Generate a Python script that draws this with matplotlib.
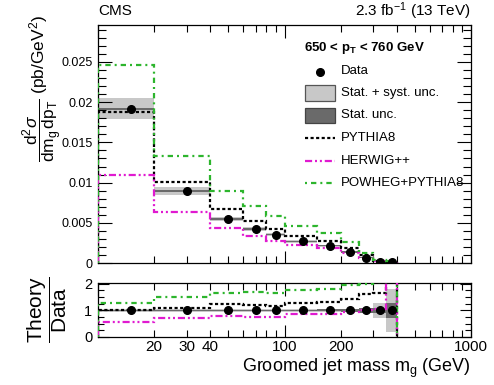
import numpy as np
import matplotlib
matplotlib.use("Agg")
import matplotlib.pyplot as plt
from matplotlib.ticker import FixedLocator, FuncFormatter, MultipleLocator
from matplotlib.patches import Rectangle

plt.rcParams['font.family'] = ['Liberation Sans', 'DejaVu Sans']
plt.rcParams['mathtext.fontset'] = 'custom'
plt.rcParams['mathtext.rm'] = 'Liberation Sans'
plt.rcParams['mathtext.it'] = 'Liberation Sans:italic'
plt.rcParams['mathtext.bf'] = 'Liberation Sans:bold'

# ---------------- data ----------------
edges = [10, 20, 40, 60, 80, 100, 150, 200, 250, 300, 350, 400]
data = [0.0192, 0.00897, 0.00545, 0.00421, 0.00351, 0.00268, 0.00216, 0.00137, 0.00065, 0.00018, 0.00008]
rel_tot = [0.07, 0.06, 0.05, 0.05, 0.05, 0.05, 0.06, 0.07, 0.10, 0.27, 0.80]
rel_stat = [0.007, 0.014, 0.02, 0.025, 0.025, 0.03, 0.035, 0.05, 0.08, 0.10, 0.27]
pythia = [0.0188, 0.01012, 0.00674, 0.00517, 0.00421, 0.0034, 0.0027, 0.0019, 0.00105, 0.0003, 0.0001]
herwig = [0.01095, 0.0064, 0.00434, 0.0033, 0.00277, 0.00222, 0.00182, 0.00128, 0.00066, 0.0002, 0.0002]
powheg = [0.02459, 0.0133, 0.0090, 0.0071, 0.00587, 0.00455, 0.0037, 0.00265, 0.0013, 0.0004, 0.0002]
r_pythia = [1.0, 1.10, 1.24, 1.21, 1.18, 1.29, 1.30, 1.42, 1.63, 1.66, 2.5]
r_herwig = [0.57, 0.70, 0.79, 0.76, 0.74, 0.85, 0.86, 0.94, 1.01, 1.05, 2.5]
r_powheg = [1.29, 1.49, 1.65, 1.68, 1.64, 1.77, 1.80, 1.96, 2.0, 2.05, 2.5]
legend_title = '650 < p$_\\mathbf{T}$ < 760 GeV'
legend_labels = ['Data', 'Stat. + syst. unc.', 'Stat. unc.', 'PYTHIA8', 'HERWIG++', 'POWHEG+PYTHIA8']

edges_a = np.array(edges, float)
centers = 0.5 * (edges_a[:-1] + edges_a[1:])
data_a = np.array(data)

LIGHT = '#c8c8c8'
DARK = '#6a6a6a'
GREEN = '#2db52d'
MAG = '#e01ad0'

LW = 1.6
sty_py = dict(color='black', lw=LW, linestyle=(0, (1.4, 1.1)))
sty_hw = dict(color=MAG, lw=LW, linestyle=(0, (3.2, 1.3, 0.9, 1.3, 0.9, 1.3)))
sty_pw = dict(color=GREEN, lw=LW, linestyle=(0, (0.9, 1.8, 2.4, 1.8)))

fig = plt.figure(figsize=(4.94, 3.85), dpi=100)
ax = fig.add_axes([98/494, 1-263/385, (471-98)/494, (263-25)/385])
axr = fig.add_axes([98/494, 1-337/385, (471-98)/494, (337-283)/385])


def bands(a, center, rel_t, rel_s):
    center = np.asarray(center)
    for i in range(len(center)):
        x0, x1 = edges_a[i], edges_a[i+1]
        a.fill_between([x0, x1], center[i]*(1-rel_t[i]), center[i]*(1+rel_t[i]),
                       color=LIGHT, lw=0, zorder=1)
        a.fill_between([x0, x1], center[i]*(1-rel_s[i]), center[i]*(1+rel_s[i]),
                       color=DARK, lw=0, zorder=1.1)


def steps(a, vals, sty):
    a.stairs(vals, edges_a, fill=False, zorder=3, **sty)


# main panel
bands(ax, data_a, rel_tot, rel_stat)
steps(ax, pythia, sty_py)
steps(ax, herwig, sty_hw)
steps(ax, powheg, sty_pw)
ax.plot(centers, data_a, 'o', color='black', ms=5.5, zorder=5)

# ratio panel
ones = np.ones(len(data))
bands(axr, ones, rel_tot, rel_stat)
steps(axr, r_pythia, sty_py)
steps(axr, r_herwig, sty_hw)
steps(axr, r_powheg, sty_pw)
axr.plot(centers, ones, 'o', color='black', ms=5.5, zorder=5)

for a in (ax, axr):
    a.set_xscale('log')
    a.set_xlim(10, 1000)
    a.xaxis.set_major_locator(FixedLocator([10, 100, 1000]))
    a.xaxis.set_minor_locator(FixedLocator([m*d for d in (10, 100) for m in range(2, 10)]))
    a.tick_params(which='both', direction='in', top=True, right=True)
    a.tick_params(which='major', length=9, width=0.8)
    a.tick_params(which='minor', length=5, width=0.8)
    for s in a.spines.values():
        s.set_linewidth(0.9)

ax.set_ylim(0, 0.0296)
ax.yaxis.set_major_locator(FixedLocator([0, 0.005, 0.01, 0.015, 0.02, 0.025]))
ax.yaxis.set_minor_locator(MultipleLocator(0.001))
ylabs = {0: '0', 0.005: '0.005', 0.01: '0.01', 0.015: '0.015', 0.02: '0.02', 0.025: '0.025'}
ax.yaxis.set_major_formatter(FuncFormatter(lambda v, p: ylabs.get(round(v, 3), '')))
ax.tick_params(axis='x', which='both', labelbottom=False)
ax.tick_params(axis='y', labelsize=9, pad=4)
ax.tick_params(axis='y', which='minor', length=6)
ax.tick_params(axis='y', which='major', length=10)

axr.set_ylim(0, 2.03)
axr.yaxis.set_major_locator(FixedLocator([0, 1, 2]))
axr.yaxis.set_minor_locator(MultipleLocator(0.25))
axr.yaxis.set_major_formatter(FuncFormatter(lambda v, p: '%d' % round(v)))
axr.xaxis.set_major_formatter(FuncFormatter(lambda v, p: '' if v < 50 else '%d' % round(v)))
axr.xaxis.set_minor_formatter(FuncFormatter(lambda v, p: '%d' % round(v) if round(v) in (20, 30, 40, 200) else ''))
axr.tick_params(axis='x', which='both', pad=2, labelsize=11)
axr.tick_params(axis='y', labelsize=10.5, pad=4)
axr.tick_params(axis='y', which='major', length=8)
axr.tick_params(axis='y', which='minor', length=4)

# texts
fig.text(98/494, 1-11/385, 'CMS', fontsize=11, ha='left', va='center')
fig.text(471/494, 1-11/385, '2.3 fb$^{-1}$ (13 TeV)', fontsize=11, ha='right', va='center')
fig.text(42/494, 1-88/385,
         r'$\dfrac{\mathrm{d}^2\sigma}{\mathrm{dm_g\,dp_T}}$ (pb/GeV$^2$)',
         fontsize=12.5, rotation=90, ha='center', va='center')
fig.text(47/494, 1-310/385, r'$\dfrac{\mathrm{Theory}}{\mathrm{Data}}$',
         fontsize=15, rotation=90, ha='center', va='center')
fig.text(471/494, 1-368/385, 'Groomed jet mass m$_\\mathrm{g}$ (GeV)',
         fontsize=13, ha='right', va='center')

# legend drawn in a pixel-coordinate overlay
ov = fig.add_axes([0, 0, 1, 1], facecolor='none')
ov.set_xlim(0, 494)
ov.set_ylim(385, 0)
ov.axis('off')
ov.text(304, 48, legend_title, fontsize=9.5, fontweight='bold', ha='left', va='center')
rows = [71.5, 93, 115.5, 138, 160.5, 183]
hx0, hx1, tx = 305, 335, 341
ov.plot([320], [rows[0]], 'o', color='black', ms=5.5)
ov.add_patch(Rectangle((hx0, rows[1]-7.8), hx1-hx0, 15.6, facecolor=LIGHT, edgecolor='#555555', lw=0.9))
ov.add_patch(Rectangle((hx0, rows[2]-7.8), hx1-hx0, 15.6, facecolor=DARK, edgecolor='#444444', lw=0.9))
ov.plot([hx0, hx1], [rows[3]]*2, **sty_py)
ov.plot([hx0, hx1], [rows[4]]*2, **sty_hw)
ov.plot([hx0, hx1], [rows[5]]*2, **sty_pw)
for r, lab in zip(rows, legend_labels):
    ov.text(tx, r, lab, fontsize=9.5, ha='left', va='center')

fig.savefig('out.png', dpi=100)
